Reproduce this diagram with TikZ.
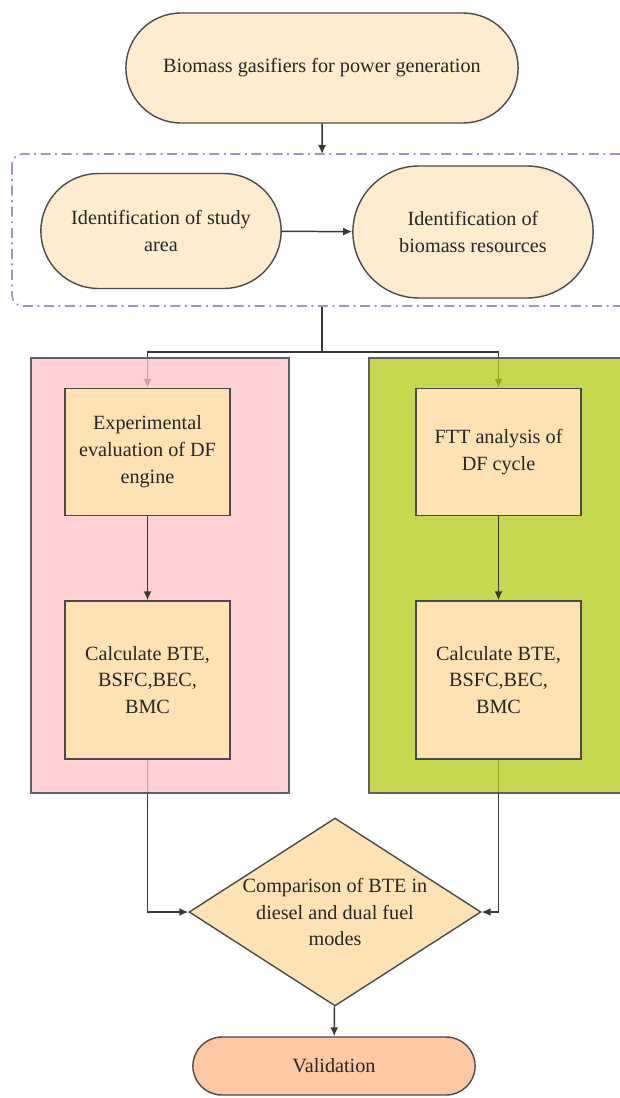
\documentclass[tikz,border=0pt]{standalone}
\usepackage{fontspec}
\setmainfont{Liberation Serif}
\newfontfamily\chartfont{Liberation Serif}
\usepackage{xcolor}
\usepackage{tikz}
\usetikzlibrary{arrows.meta, positioning, shapes.geometric, shapes.misc}

\definecolor{cream}{RGB}{255,235,205}
\definecolor{boxfill}{RGB}{255,226,180}
\definecolor{pinkpanel}{RGB}{255,194,198}
\definecolor{greenpanel}{RGB}{182,202,22}
\definecolor{valfill}{RGB}{255,200,165}
\definecolor{grpline}{RGB}{170,140,200}
\definecolor{lnk}{RGB}{55,55,55}

\pgfdeclarelayer{bg}
\pgfdeclarelayer{panel}
\pgfsetlayers{bg,panel,main}

\begin{document}
\begin{tikzpicture}[x=0.02cm, y=-0.02cm,
		every node/.style={font=\chartfont\fontsize{11.5}{15.3}\selectfont, text=black!85, align=center},
		pill/.style={draw=lnk!90, line width=0.8pt, rounded rectangle, fill=cream},
		block/.style={draw=lnk!90, line width=0.8pt, rectangle, fill=boxfill, minimum width=3.3cm, inner sep=2pt},
		link/.style={draw=lnk, line width=0.85pt, -{Latex[length=1.8mm, width=1.6mm]}}]
				\useasboundingbox (0,0) rectangle (619,1098);

				% Top level
				\node[pill, minimum width=8.08cm, minimum height=2.2cm] (gas) at (322,68) {Biomass gasifiers for power generation};

				% Study area group
				\draw[grpline, line width=0.9pt, rounded corners=6pt, dash pattern=on 5.7pt off 2.6pt on 1.1pt off 2.6pt] (12,154) rectangle (640,306);
				\coordinate (grptop) at (322,154);
				\coordinate (grpbot) at (322,306);
				\node[pill, minimum width=5.04cm, minimum height=2.3cm] (area) at (161,231) {Identification of study\\area};
				\node[pill, minimum width=5.04cm, minimum height=2.64cm] (res) at (473,232) {Identification of\\biomass resources};

				% Two branches
				\node[block, minimum height=2.54cm] (exp) at (147.5,452) {Experimental\\evaluation of DF\\engine};
				\node[block, minimum height=3.16cm] (calcA) at (147.5,680) {Calculate BTE,\\BSFC,BEC,\\BMC};
				\node[block, minimum height=2.54cm] (ftt) at (498.5,452) {FTT analysis of\\DF cycle};
				\node[block, minimum height=3.16cm] (calcB) at (498.5,680) {Calculate BTE,\\BSFC,BEC,\\BMC};

				\begin{pgfonlayer}{panel}
					\fill[pinkpanel, fill opacity=0.75] (31,358) rectangle (289,793);
					\draw[lnk!80, line width=0.8pt] (31,358) rectangle (289,793);
					\fill[greenpanel, fill opacity=0.75] (369,358) rectangle (640,793);
					\draw[lnk!80, line width=0.8pt] (369,358) rectangle (640,793);
				\end{pgfonlayer}

				% Comparison and validation
				\node[draw=lnk!90, line width=0.8pt, diamond, fill=boxfill, shape aspect=1.55, inner sep=0pt,
					minimum width=5.84cm, minimum height=3.76cm] (cmp) at (335,912) {Comparison of BTE in\\diesel and dual fuel\\modes};
				\node[pill, fill=valfill, minimum width=5.88cm, minimum height=1.16cm] (val) at (334,1066) {Validation};

				% Connectors
				\draw[link] (gas) -- (grptop);
				\draw[link] (area) -- (res);
				\begin{pgfonlayer}{bg}
					\draw[link] (grpbot) -- ++(0,46) -| (exp.north);
					\draw[link] (grpbot) -- ++(0,46) -| (ftt.north);
					\draw[link] (calcA.south) |- (cmp.west);
					\draw[link] (calcB.south) |- (cmp.east);
				\end{pgfonlayer}
				\draw[link] (exp) -- (calcA);
				\draw[link] (ftt) -- (calcB);
				\draw[link] (cmp) -- (val);
			\end{tikzpicture}
\end{document}
